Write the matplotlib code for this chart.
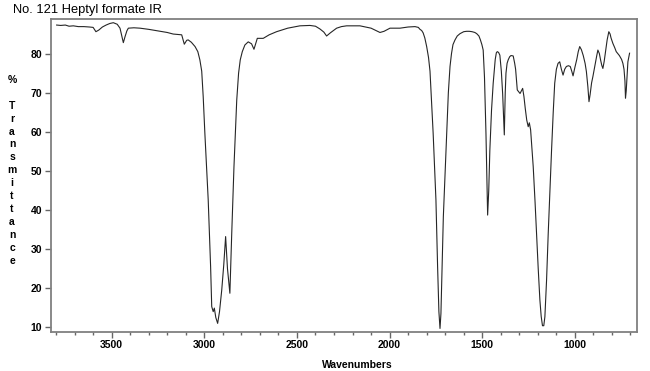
import matplotlib
matplotlib.use("Agg")
import matplotlib.pyplot as plt
from matplotlib.ticker import MultipleLocator

wavenumbers = [3797, 3775, 3750, 3730, 3707, 3680, 3650, 3620, 3600, 3585, 3570, 3550, 3530, 3510,
               3491, 3470, 3455, 3445, 3437, 3428, 3418, 3410, 3380, 3347, 3300, 3250, 3200, 3168,
               3122, 3108, 3095, 3087, 3070, 3050, 3035, 3024, 3014, 3006, 2997, 2988, 2979, 2966,
               2960, 2952, 2946, 2938, 2928, 2918, 2906, 2895, 2885, 2875, 2862, 2852, 2840, 2825,
               2815, 2806, 2795, 2781, 2763, 2745, 2732, 2714, 2682, 2650, 2610, 2550, 2484, 2430,
               2400, 2376, 2355, 2340, 2320, 2300, 2286, 2260, 2232, 2160, 2100, 2070, 2052, 2030,
               1998, 1944, 1900, 1863, 1845, 1836, 1827, 1819, 1810, 1800, 1790, 1782, 1765, 1750,
               1741, 1734, 1728, 1723, 1719, 1710, 1700, 1692, 1683, 1674, 1666, 1658, 1647, 1635,
               1620, 1600, 1584, 1570, 1555, 1540, 1530, 1518, 1510, 1502, 1495, 1488, 1480, 1471,
               1465, 1459, 1450, 1441, 1430, 1424, 1419, 1412, 1405, 1397, 1390, 1381, 1376, 1372,
               1366, 1360, 1352, 1345, 1333, 1325, 1320, 1311, 1296, 1282, 1275, 1268, 1260, 1252,
               1246, 1239, 1225, 1215, 1207, 1198, 1189, 1182, 1175, 1168, 1162, 1153, 1144, 1135,
               1126, 1117, 1109, 1100, 1091, 1082, 1073, 1064, 1055, 1046, 1035, 1025, 1017, 1010,
               1000, 990, 982, 974, 965, 955, 945, 938, 930, 924, 918, 910, 903, 890, 882, 876,
               868, 862, 855, 849, 842, 835, 826, 817, 810, 805, 795, 785, 777, 760, 748, 741, 735,
               730, 727, 723, 718, 714, 705]
transmittance = [87.3, 87.2, 87.3, 87.0, 87.1, 86.9, 86.9, 86.8, 86.7, 85.6, 86.0, 86.8, 87.3, 87.7,
                 87.9, 87.5, 86.5, 84.5, 82.8, 84.3, 85.8, 86.5, 86.6, 86.5, 86.2, 85.8, 85.4, 85.0,
                 84.8, 82.4, 83.4, 83.5, 82.9, 81.8, 80.5, 78.4, 75.5, 69.0, 59.6, 51.0, 42.6, 25.5,
                 15.3, 14.0, 14.9, 12.5, 11.0, 14.0, 19.5, 26.0, 33.2, 25.0, 18.7, 34.0, 51.0, 68.1,
                 75.0, 78.4, 80.5, 82.2, 83.0, 82.5, 81.1, 83.9, 83.9, 84.8, 85.6, 86.5, 87.1, 87.2,
                 87.0, 86.3, 85.5, 84.5, 85.3, 86.0, 86.5, 86.9, 87.1, 87.1, 86.5, 85.8, 85.4, 85.7,
                 86.5, 86.5, 86.8, 86.9, 86.7, 86.2, 85.9, 85.3, 84.0, 81.8, 79.0, 75.5, 59.6, 42.6,
                 25.5, 14.0, 9.7, 13.5, 21.3, 38.3, 50.0, 59.6, 70.0, 76.7, 80.0, 82.3, 83.5, 84.5,
                 85.1, 85.6, 85.7, 85.7, 85.6, 85.4, 85.1, 84.5, 83.5, 82.3, 80.9, 74.0, 59.6, 38.7,
                 45.0, 55.3, 65.5, 72.4, 78.5, 80.2, 80.5, 80.3, 79.6, 75.5, 69.8, 59.2, 70.0, 75.0,
                 77.5, 78.4, 79.2, 79.5, 79.4, 77.5, 76.0, 70.7, 69.8, 71.1, 69.0, 66.0, 63.0, 61.3,
                 62.3, 60.5, 51.1, 42.0, 34.0, 25.0, 17.0, 12.8, 10.4, 10.4, 12.7, 22.0, 34.0, 45.0,
                 55.3, 65.0, 72.4, 76.0, 77.5, 77.9, 76.0, 74.5, 76.0, 76.7, 76.9, 76.7, 75.5, 74.3,
                 76.5, 78.5, 80.5, 81.8, 81.0, 79.5, 77.5, 75.4, 71.5, 67.7, 69.5, 72.5, 74.1, 77.5,
                 79.5, 80.9, 80.0, 78.5, 77.0, 76.2, 78.0, 80.5, 83.5, 85.6, 85.0, 84.0, 82.6, 81.5,
                 80.5, 79.5, 78.5, 77.5, 76.0, 73.0, 68.6, 70.5, 74.5, 77.9, 80.1]

x_ticks = [3500, 3000, 2500, 2000, 1500, 1000]
y_ticks = [10, 20, 30, 40, 50, 60, 70, 80]
title = "No. 121 Heptyl formate IR"
x_label = "Wavenumbers"
y_label_chars = ["%", "", "T", "r", "a", "n", "s", "m", "i", "t", "t", "a", "n", "c", "e"]

W, H = 650, 371
fig = plt.figure(figsize=(W / 100, H / 100), dpi=100)
fig.patch.set_facecolor("white")
ax = fig.add_axes([50.7 / W, 1 - 331.7 / H, (636.7 - 50.7) / W, (331.7 - 19.3) / H])

ax.plot(wavenumbers, transmittance, color="#262626", linewidth=0.8, solid_joinstyle="round")
ax.set_xlim(3829, 666.5)
ax.set_ylim(8.87, 88.77)

ax.set_xticks(x_ticks)
ax.set_yticks(y_ticks)
ax.xaxis.set_minor_locator(MultipleLocator(100))
font = "Liberation Sans"
for lab in ax.get_xticklabels() + ax.get_yticklabels():
    lab.set_fontfamily(font)
    lab.set_fontweight("bold")
    lab.set_fontsize(7.5)
ax.tick_params(axis="both", which="major", length=4, width=1, color="#666666", pad=2)
ax.tick_params(axis="x", which="minor", length=2.5, width=1, color="#666666")
for sp in ax.spines.values():
    sp.set_color("#808080")
    sp.set_linewidth(1.3)

fig.text(13 / W, 1 - 10 / H, title, fontsize=9.3, family=font, ha="left", va="center")
fig.text(357 / W, 1 - 365 / H, x_label, fontsize=7.5, family=font, weight="bold",
         ha="center", va="center")
y0 = 80
for i, ch in enumerate(y_label_chars):
    if ch:
        fig.text(12 / W, 1 - (y0 + 12.9 * i) / H, ch, fontsize=7.5, family=font,
                 weight="bold", ha="center", va="center")

fig.savefig("out.png", dpi=100)
